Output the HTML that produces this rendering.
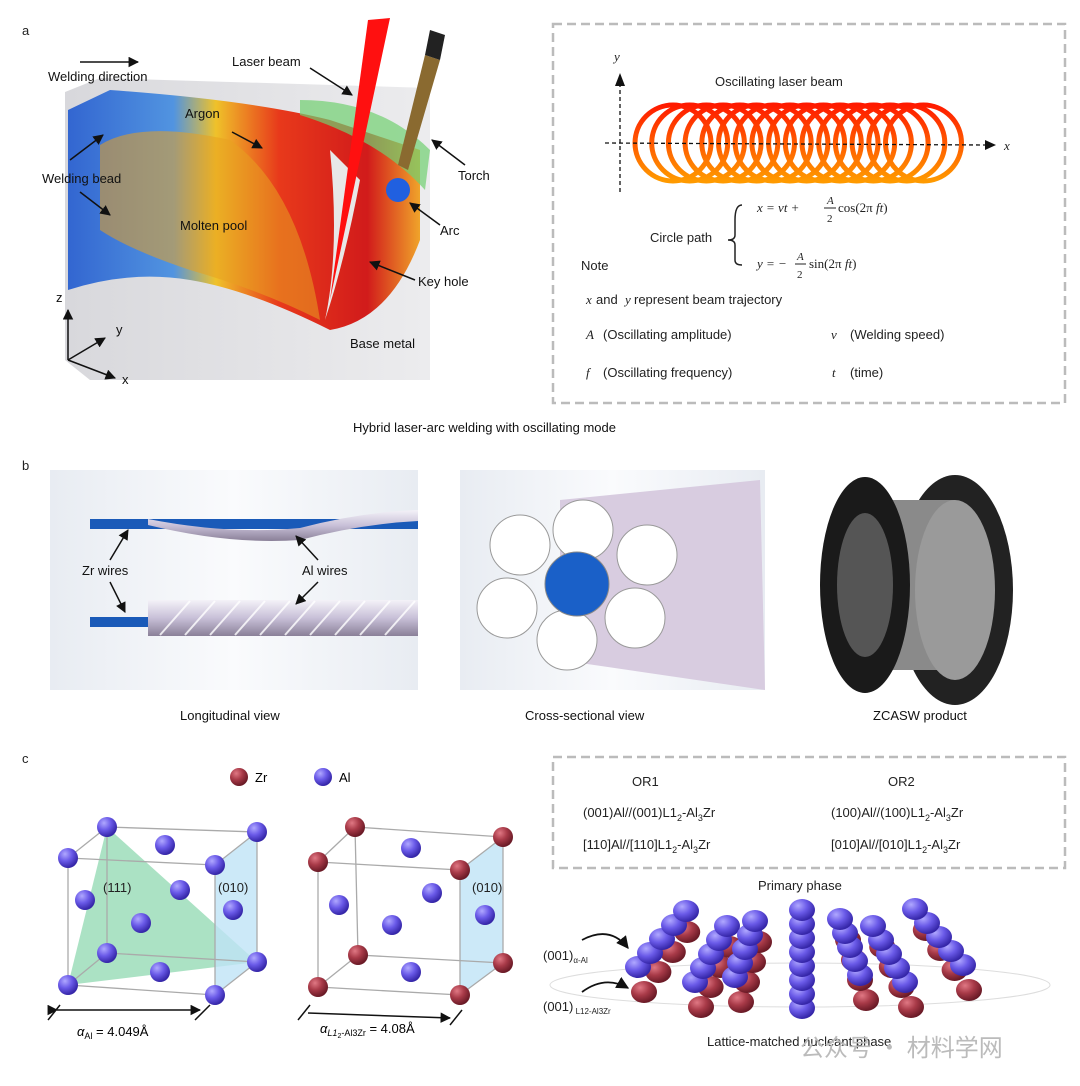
<!DOCTYPE html>
<html><head><meta charset="utf-8"><style>
html,body{margin:0;padding:0;background:#fff;}
svg{display:block;font-family:"Liberation Sans",Arial,sans-serif;}
</style></head><body>
<svg id="s" width="1080" height="1086" viewBox="0 0 1080 1086" xmlns="http://www.w3.org/2000/svg">
<defs>
<radialGradient id="pu" cx="35%" cy="30%" r="70%"><stop offset="0" stop-color="#b0a8ff"/><stop offset="0.5" stop-color="#6a5ae8"/><stop offset="1" stop-color="#3526a8"/></radialGradient>
<radialGradient id="rd" cx="35%" cy="30%" r="70%"><stop offset="0" stop-color="#e07884"/><stop offset="0.5" stop-color="#a83a48"/><stop offset="1" stop-color="#6a1a26"/></radialGradient>
<linearGradient id="ring" x1="0" y1="0" x2="0" y2="1"><stop offset="0" stop-color="#ff1a00"/><stop offset="1" stop-color="#ff9a00"/></linearGradient>
<linearGradient id="blk" x1="0" y1="0" x2="1" y2="0"><stop offset="0" stop-color="#d8d8dc"/><stop offset="1" stop-color="#ececee"/></linearGradient>
<linearGradient id="pool" x1="0" y1="0" x2="1" y2="0"><stop offset="0" stop-color="#2a60d0"/><stop offset="0.3" stop-color="#4a90e0"/><stop offset="0.42" stop-color="#f0c020"/><stop offset="0.6" stop-color="#e83010"/><stop offset="0.85" stop-color="#d01010"/><stop offset="1" stop-color="#f0a020"/></linearGradient>
<linearGradient id="bgb" x1="0" y1="0" x2="1" y2="0"><stop offset="0" stop-color="#e8ecf2"/><stop offset="0.5" stop-color="#fafbfd"/><stop offset="1" stop-color="#e8ecf2"/></linearGradient>
<linearGradient id="wire" x1="0" y1="0" x2="0" y2="1"><stop offset="0" stop-color="#f4f2f8"/><stop offset="0.5" stop-color="#c8c0d8"/><stop offset="1" stop-color="#8a8098"/></linearGradient>
<marker id="ah" viewBox="0 0 10 10" refX="9" refY="5" markerWidth="7" markerHeight="7" orient="auto"><path d="M0,0L10,5L0,10z" fill="#111"/></marker>
</defs>
<g font-size="13" fill="#222">
<text x="22" y="35">a</text><text x="22" y="470">b</text><text x="22" y="763">c</text>
</g>
<!-- Panel a left -->
<polygon points="65,92 100,78 430,88 430,380 90,380 65,360" fill="url(#blk)"/>
<path d="M68,110 L110,90 Q250,100 330,120 L420,150 L420,240 Q390,320 330,330 Q250,290 190,280 Q130,270 68,290 Z" fill="url(#pool)" opacity="0.95"/>
<path d="M100,145 Q140,120 230,140 Q300,190 320,320 Q260,290 190,270 Q130,250 100,230Z" fill="#e8a020" opacity="0.55"/>
<path d="M300,100 Q380,100 430,150 L425,190 Q380,140 300,115Z" fill="#70d070" opacity="0.7"/>
<path d="M330,150 Q340,250 325,320 Q345,260 360,180Z" fill="#e8e8e8"/>
<polygon points="368,20 390,18 330,300" fill="#ff1010"/>
<polygon points="425,55 440,60 408,170 398,165" fill="#8a6a30"/>
<polygon points="430,30 445,35 440,60 425,55" fill="#222"/>
<circle cx="398" cy="190" r="12" fill="#2060e0"/>
<g font-size="13" fill="#111">
<text x="48" y="81">Welding direction</text>
<text x="232" y="66">Laser beam</text>
<text x="185" y="118">Argon</text>
<text x="42" y="183">Welding bead</text>
<text x="180" y="230">Molten pool</text>
<text x="458" y="180">Torch</text>
<text x="440" y="235">Arc</text>
<text x="418" y="286">Key hole</text>
<text x="350" y="348">Base metal</text>
<text x="56" y="302">z</text><text x="116" y="334">y</text><text x="122" y="384">x</text>
</g>
<g stroke="#111" stroke-width="1.5" fill="none" marker-end="url(#ah)">
<line x1="80" y1="62" x2="138" y2="62"/>
<line x1="310" y1="68" x2="352" y2="95"/>
<line x1="232" y1="132" x2="262" y2="148"/>
<line x1="70" y1="160" x2="103" y2="135"/>
<line x1="80" y1="192" x2="110" y2="215"/>
<line x1="465" y1="165" x2="432" y2="140"/>
<line x1="440" y1="225" x2="410" y2="203"/>
<line x1="415" y1="280" x2="370" y2="262"/>
<line x1="68" y1="360" x2="68" y2="310"/>
<line x1="68" y1="360" x2="105" y2="338"/>
<line x1="68" y1="360" x2="115" y2="378"/>
</g>
<text x="353" y="432" font-size="13" fill="#111">Hybrid laser-arc welding with oscillating mode</text>
<!-- right dashed box a -->
<rect x="553" y="24" width="512" height="379" fill="none" stroke="#bbb" stroke-width="2.5" stroke-dasharray="9,5"/>
<g id="rings" fill="none" stroke="url(#ring)" stroke-width="5"></g>
<line x1="605" y1="143" x2="985" y2="145" stroke="#111" stroke-dasharray="4,3" stroke-width="1.3"/>
<polygon points="985,140 996,145 985,150" fill="#111"/>
<line x1="620" y1="192" x2="620" y2="85" stroke="#111" stroke-dasharray="4,3" stroke-width="1.3"/>
<polygon points="615,86 620,73 625,86" fill="#111"/>
<g font-family="Liberation Serif,serif" font-style="italic" font-size="13" fill="#222">
<text x="614" y="61">y</text><text x="1004" y="150">x</text>
<text x="757" y="212">x = vt +</text><text x="827" y="204" font-size="11">A</text><text x="827" y="222" font-size="11" font-style="normal">2</text>
<line x1="824" y1="208" x2="836" y2="208" stroke="#222"/>
<text x="838" y="212" font-style="normal">cos(2π <tspan font-style="italic">ft</tspan>)</text>
<text x="757" y="268">y = −</text><text x="797" y="260" font-size="11">A</text><text x="797" y="278" font-size="11" font-style="normal">2</text>
<line x1="795" y1="264" x2="806" y2="264" stroke="#222"/>
<text x="809" y="268" font-style="normal">sin(2π <tspan font-style="italic">ft</tspan>)</text>
<text x="586" y="304">x</text><text x="625" y="304">y</text>
<text x="586" y="339">A</text><text x="831" y="339">v</text>
<text x="586" y="377">f</text><text x="832" y="377">t</text>
</g>
<path d="M742,205 Q735,205 735,220 L735,235 Q735,240 728,240 Q735,240 735,245 L735,260 Q735,265 742,265" fill="none" stroke="#222" stroke-width="1.5"/>
<g font-size="13" fill="#222">
<text x="715" y="86">Oscillating laser beam</text>
<text x="650" y="242">Circle path</text>
<text x="581" y="270">Note</text>
<text x="596" y="304">and</text><text x="634" y="304">represent beam trajectory</text>
<text x="603" y="339">(Oscillating amplitude)</text><text x="850" y="339">(Welding speed)</text>
<text x="603" y="377">(Oscillating frequency)</text><text x="850" y="377">(time)</text>
</g>
<!-- Panel b -->
<rect x="50" y="470" width="368" height="220" fill="url(#bgb)"/>
<rect x="90" y="519" width="328" height="10" fill="#1a5ab8"/>
<path d="M148,519 Q230,535 300,528 Q360,512 418,510 L418,521 Q360,524 300,540 Q230,545 148,525Z" fill="url(#wire)"/>
<rect x="90" y="617" width="60" height="10" fill="#1a5ab8"/>
<rect x="148" y="600" width="270" height="36" fill="url(#wire)"/>
<g stroke="#fff" stroke-width="2" fill="none" opacity="0.8"><path d="M160,635 L190,601 M185,635 L215,601 M210,635 L240,601 M235,635 L265,601 M260,635 L290,601 M285,635 L315,601 M310,635 L340,601 M335,635 L365,601 M360,635 L390,601 M385,635 L415,601"/></g>
<g font-size="13" fill="#111"><text x="82" y="575">Zr wires</text><text x="302" y="575">Al wires</text></g>
<g stroke="#111" stroke-width="1.5" fill="none" marker-end="url(#ah)">
<line x1="110" y1="560" x2="128" y2="530"/><line x1="110" y1="582" x2="125" y2="612"/>
<line x1="318" y1="560" x2="296" y2="536"/><line x1="318" y1="582" x2="296" y2="604"/>
</g>
<rect x="460" y="470" width="305" height="220" fill="url(#bgb)"/>
<path d="M560,500 L760,480 L765,690 L560,660 Z" fill="#d8cce0"/>
<g stroke="#999" fill="#fff" stroke-width="1">
<circle cx="583" cy="530" r="30"/><circle cx="520" cy="545" r="30"/><circle cx="647" cy="555" r="30"/>
<circle cx="507" cy="608" r="30"/><circle cx="635" cy="618" r="30"/><circle cx="567" cy="640" r="30"/>
</g>
<circle cx="577" cy="584" r="32" fill="#1a60c8" stroke="#888"/>
<g font-size="13" fill="#111"><text x="180" y="720">Longitudinal view</text><text x="525" y="720">Cross-sectional view</text><text x="873" y="720">ZCASW product</text></g>
<!-- spool -->
<ellipse cx="955" cy="590" rx="58" ry="115" fill="#222"/>
<rect x="865" y="500" width="90" height="170" fill="#8a8a8a"/>
<ellipse cx="865" cy="585" rx="45" ry="108" fill="#1a1a1a"/>
<ellipse cx="955" cy="590" rx="40" ry="90" fill="#9a9a9a"/>
<ellipse cx="865" cy="585" rx="28" ry="72" fill="#555"/>
<!-- Panel c -->
<circle cx="239" cy="777" r="9" fill="url(#rd)"/><text x="255" y="782" font-size="13">Zr</text>
<circle cx="323" cy="777" r="9" fill="url(#pu)"/><text x="339" y="782" font-size="13">Al</text>
<polygon points="107,827 68,985 257,962" fill="#8fd8b0" opacity="0.75"/>
<polygon points="215,865 257,832 257,962 215,995" fill="#bfe4f6" opacity="0.8"/>
<polygon points="460,870 503,837 503,963 460,995" fill="#bfe4f6" opacity="0.8"/>
<g id="cubes" stroke="#aaa" stroke-width="1.3" fill="none"></g>
<g font-size="13" fill="#222"><text x="103" y="892">(111)</text><text x="218" y="892">(010)</text><text x="472" y="892">(010)</text></g>
<g stroke="#111" stroke-width="1.5"><line x1="57" y1="1010" x2="200" y2="1010" marker-end="url(#ah)" marker-start="url(#ah)"/>
<line x1="308" y1="1013" x2="450" y2="1018" marker-end="url(#ah)"/><line x1="48" y1="1020" x2="60" y2="1005"/><line x1="195" y1="1020" x2="210" y2="1005"/><line x1="298" y1="1020" x2="310" y2="1005"/><line x1="450" y1="1025" x2="462" y2="1010"/></g>
<g id="atoms"></g>
<text x="77" y="1036" font-size="13"><tspan font-style="italic">α</tspan><tspan font-size="9" dy="3">Al</tspan><tspan dy="-3"> = 4.049Å</tspan></text>
<text x="320" y="1033" font-size="13"><tspan font-style="italic">α</tspan><tspan font-size="9" dy="3" font-style="italic">L1</tspan><tspan font-size="7" dy="2">2</tspan><tspan font-size="9" dy="-2">-Al3Zr</tspan><tspan dy="-3"> = 4.08Å</tspan></text>
<rect x="553" y="757" width="512" height="111" fill="none" stroke="#bbb" stroke-width="2.5" stroke-dasharray="9,5"/>
<g font-size="13" fill="#222">
<text x="632" y="786">OR1</text><text x="888" y="786">OR2</text>
<text x="583" y="817">(001)Al//(001)L1<tspan font-size="9" dy="4">2</tspan><tspan dy="-4">-Al</tspan><tspan font-size="9" dy="4">3</tspan><tspan dy="-4">Zr</tspan></text>
<text x="831" y="817">(100)Al//(100)L1<tspan font-size="9" dy="4">2</tspan><tspan dy="-4">-Al</tspan><tspan font-size="9" dy="4">3</tspan><tspan dy="-4">Zr</tspan></text>
<text x="583" y="849">[110]Al//[110]L1<tspan font-size="9" dy="4">2</tspan><tspan dy="-4">-Al</tspan><tspan font-size="9" dy="4">3</tspan><tspan dy="-4">Zr</tspan></text>
<text x="831" y="849">[010]Al//[010]L1<tspan font-size="9" dy="4">2</tspan><tspan dy="-4">-Al</tspan><tspan font-size="9" dy="4">3</tspan><tspan dy="-4">Zr</tspan></text>
<text x="758" y="890">Primary phase</text>
<text x="543" y="960">(001)<tspan font-size="8" dy="3">α-Al</tspan></text>
<text x="543" y="1011">(001)<tspan font-size="8" dy="3"> L12-Al3Zr</tspan></text>
<text x="707" y="1046">Lattice-matched nucleant phase</text>
</g>
<g stroke="#111" stroke-width="1.8" fill="none" marker-end="url(#ah)"><path d="M582,940 Q610,925 628,948"/><path d="M582,992 Q605,975 628,988"/></g>
<ellipse cx="800" cy="985" rx="250" ry="22" fill="none" stroke="#ddd"/>
<g id="layer"></g>
<text x="800" y="1056" font-size="24" fill="#bbb" font-family="Noto Sans CJK SC,sans-serif">公众号 · 材料学网</text>
</svg>
<script>
var NS="http://www.w3.org/2000/svg";
function el(p,t,a){var e=document.createElementNS(NS,t);for(var k in a)e.setAttribute(k,a[k]);document.getElementById(p).appendChild(e);return e;}
for(var i=0;i<16;i++){el("rings","circle",{cx:673+i*16.7,cy:143,r:38});}
function cube(o,c){var b=[o.btl,o.btr,o.bbr,o.bbl],f=[o.ftl,o.ftr,o.fbr,o.fbl];
 for(var i=0;i<4;i++){var j=(i+1)%4;
 el("cubes","line",{x1:b[i][0],y1:b[i][1],x2:b[j][0],y2:b[j][1]});
 el("cubes","line",{x1:f[i][0],y1:f[i][1],x2:f[j][0],y2:f[j][1]});
 el("cubes","line",{x1:b[i][0],y1:b[i][1],x2:f[i][0],y2:f[i][1]});
 el("atoms","circle",{cx:b[i][0],cy:b[i][1],r:10,fill:c});el("atoms","circle",{cx:f[i][0],cy:f[i][1],r:10,fill:c});}
 o.face.forEach(function(p){el("atoms","circle",{cx:p[0],cy:p[1],r:10,fill:"url(#pu)"});});}
cube({btl:[107,827],btr:[257,832],bbr:[257,962],bbl:[107,953],ftl:[68,858],ftr:[215,865],fbr:[215,995],fbl:[68,985],face:[[165,845],[180,890],[85,900],[141,923],[160,972],[233,910]]},"url(#pu)");
cube({btl:[355,827],btr:[503,837],bbr:[503,963],bbl:[358,955],ftl:[318,862],ftr:[460,870],fbr:[460,995],fbl:[318,987],face:[[411,848],[432,893],[339,905],[392,925],[411,972],[485,915]]},"url(#rd)");
// layer
var cols=[[638,967,12],[695,982,8],[735,977,5],[802,1008,0],[860,975,-5],[905,982,-8],[963,965,-12]];
cols.forEach(function(c,k){
 if(k!=3){for(var i=0;i<4;i++)el("layer","ellipse",{cx:c[0]+6+i*c[2]*1.2,cy:c[1]+25-i*20,rx:13,ry:11,fill:"url(#rd)"});}
 var n=k==3?8:5;for(var i=0;i<n;i++){var dx=k==3?0:c[2],dy=k==3?14:14;
 el("layer","ellipse",{cx:c[0]+i*dx,cy:c[1]-i*dy,rx:13,ry:11,fill:"url(#pu)"});}
});
</script>
</body></html>
